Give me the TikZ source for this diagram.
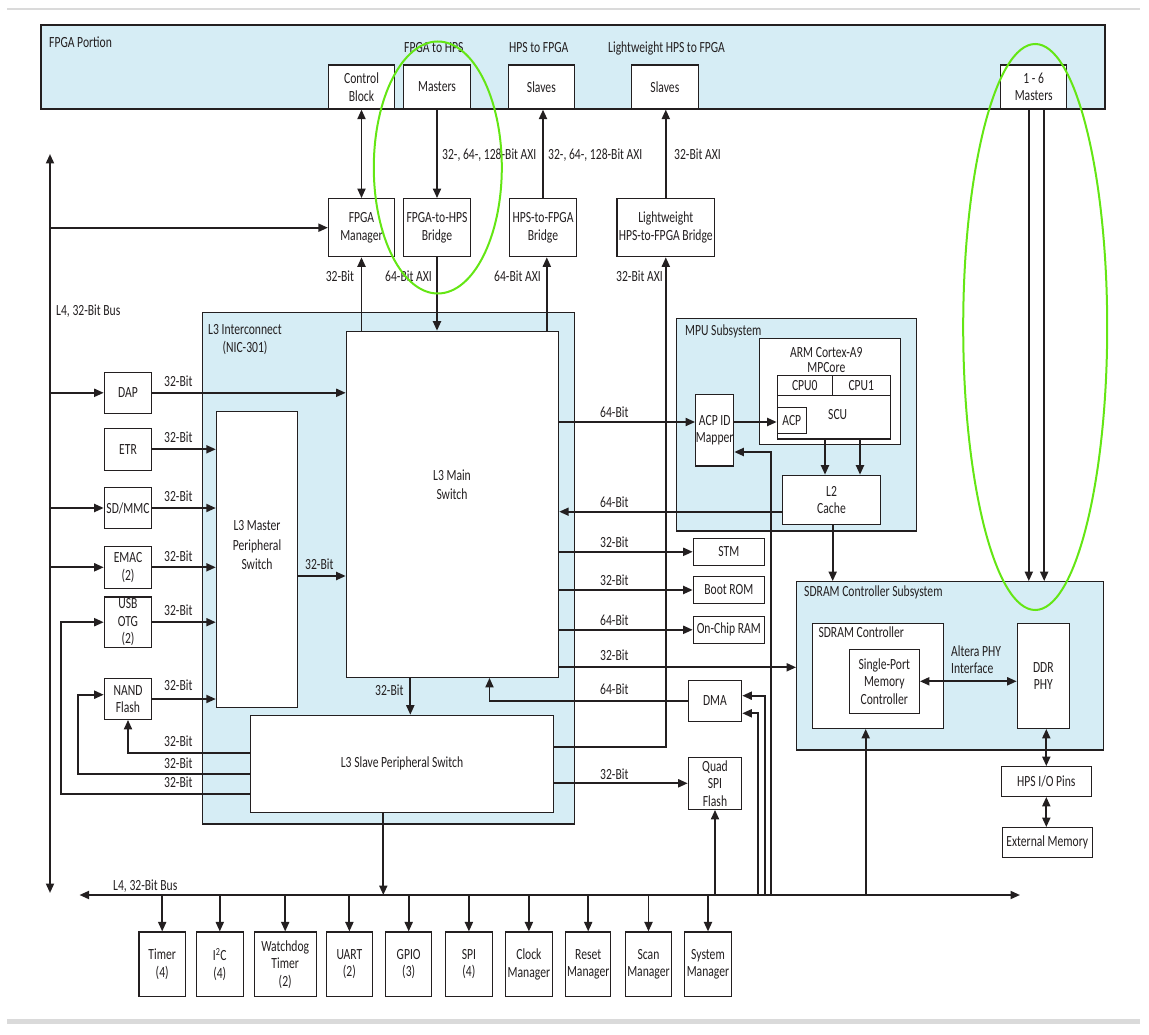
\documentclass[tikz,border=0pt]{standalone}
\usepackage{fontspec}
\setmainfont{Carlito}[FakeStretch=0.75]
\usetikzlibrary{arrows.meta}
\definecolor{ink}{RGB}{35,31,32}
\definecolor{lblue}{RGB}{214,237,245}
\definecolor{hlgreen}{RGB}{100,230,20}
\definecolor{rulec}{RGB}{218,218,218}
\begin{document}
\begin{tikzpicture}[x=1pt,y=-1pt,
  every node/.style={font=\fontsize{15.5}{17.5}\selectfont, text=ink},
  box/.style={draw=ink, line width=1.2pt, fill=white, inner sep=0pt, align=center},
  bx/.style 2 args={box, minimum width=#1pt, minimum height=#2pt},
  region/.style 2 args={draw=ink, line width=1.2pt, fill=lblue, inner sep=0pt, minimum width=#1pt, minimum height=#2pt},
  arr/.style={draw=ink, line width=1.9pt, -{Triangle[length=9.5pt,width=8pt]}},
  dbl/.style={draw=ink, line width=1.9pt, {Triangle[length=9.5pt,width=8pt]}-{Triangle[length=9.5pt,width=8pt]}},
  lbl/.style={inner sep=0pt, anchor=base west},
  txt/.style={inner sep=0pt, align=center},
  hl/.style={draw=hlgreen, line width=2pt}]
\useasboundingbox (0,0) rectangle (1149,1035);
% page rules
\draw[rulec, line width=2pt] (7,9) -- (1140,9);
\draw[rulec, line width=5pt] (7,1021) -- (1140,1021);
% regions
\node[region={1064}{84}] (fpgap) at (573,67) {};
\node[region={372.1}{511.7}] (l3ic) at (388.45,568.15) {};
\node[region={240}{212.7}] (mpu) at (796.7,424.65) {};
\node[region={306.6}{168.3}] (sdss) at (950,665.85) {};
\node[lbl] (fpgat) at (49,47.7) {FPGA Portion};
\node[lbl] (hd1) at (404,53) {FPGA to HPS};
\node[lbl] (hd2) at (509,53) {HPS to FPGA};
\node[lbl] (hd3) at (608,53) {Lightweight HPS to FPGA};
\node[txt] (l3t) at (245,339.5) {L3 Interconnect\\(NIC-301)};
\node[lbl] (mput) at (685,335) {MPU Subsystem};
\node[lbl] (sdsst) at (804,596.7) {SDRAM Controller Subsystem};
% FPGA portion boxes
\node[bx={66}{44}] (cb) at (361.5,87) {Control\\Block};
\node[bx={67}{44}] (mast) at (437,87) {Masters};
\node[bx={66}{44}] (sl1) at (541.4,87) {Slaves};
\node[bx={67}{44}] (sl2) at (664.9,87) {Slaves};
\node[bx={66}{44}] (m16) at (1033.7,87) {1 - 6\\Masters};
% bridges
\node[bx={66}{58}] (fm) at (361.5,227.7) {FPGA\\Manager};
\node[bx={67.5}{58}] (f2h) at (437,227.7) {FPGA-to-HPS\\Bridge};
\node[bx={67}{58}] (h2f) at (543,227.7) {HPS-to-FPGA\\Bridge};
\node[bx={97.5}{58}] (lw) at (665.8,227.7) {Lightweight\\HPS-to-FPGA Bridge};
% L3 interconnect
\node[bx={212.3}{346}] (ms) at (452.45,504.3) {};
\node[txt, font=\fontsize{15.5}{19.3}\selectfont] (mstxt) at (452,485) {L3 Main\\Switch};
\node[bx={81.4}{296}] (msw) at (257.1,559.3) {};
\node[txt, font=\fontsize{15.5}{19.3}\selectfont] (mswtxt) at (257,545.3) {L3 Master\\Peripheral\\Switch};
\node[bx={303.5}{97}] (ssw) at (402,763.8) {L3 Slave Peripheral Switch};
% left peripherals
\node[bx={47.4}{41}] (dap) at (128,392.8) {DAP};
\node[bx={47.4}{42}] (etr) at (128,449.3) {ETR};
\node[bx={47.4}{41.4}] (sdmmc) at (128,508) {SD/MMC};
\node[bx={47.4}{42}] (emac) at (128,567.3) {EMAC\\(2)};
\node[bx={47.4}{50.3}] (usb) at (128,622.2) {USB\\OTG\\(2)};
\node[bx={47.4}{40.6}] (nand) at (128,699) {NAND\\Flash};
% MPU
\node[bx={141}{106}] (arm) at (829.8,391.3) {};
\node[txt, font=\fontsize{15.5}{15.6}\selectfont] (armtxt) at (826.3,360) {ARM Cortex-A9\\MPCore};
\node[bx={55}{20}] (cpu0) at (804.8,385.7) {CPU0};
\node[bx={58}{20}] (cpu1) at (861.3,385.7) {CPU1};
\node[bx={113}{43.3}] (scu) at (833.8,417.35) {};
\node[txt] (scutxt) at (837.7,415) {SCU};
\node[bx={29}{26}] (acp) at (791.8,420.3) {ACP};
\node[bx={38}{71.7}] (acpm) at (714.7,430.2) {ACP ID\\Mapper};
\node[bx={98.4}{49.4}] (l2) at (831.5,500) {L2\\Cache};
% slaves on right
\node[bx={71}{27}] (stm) at (728.8,551.8) {STM};
\node[bx={71}{26.6}] (boot) at (728.8,590) {Boot ROM};
\node[bx={71}{27}] (ocram) at (728.8,629.8) {On-Chip RAM};
\node[bx={53.4}{41}] (dma) at (715,700.8) {DMA};
\node[bx={53.4}{52}] (qspi) at (715,783.3) {Quad\\SPI\\Flash};
% SDRAM
\node[bx={131}{105}] (sdctl) at (877.8,675.8) {};
\node[lbl] (sdctltxt) at (818.3,637.3) {SDRAM Controller};
\node[bx={70}{64}] (spmc) at (884.3,681.3) {Single-Port\\Memory\\Controller};
\node[bx={52}{105}] (ddr) at (1043.3,675.8) {DDR\\PHY};
\node[bx={90}{29.6}] (hpsio) at (1046.3,781.5) {HPS I/O Pins};
\node[bx={90}{29.6}] (extmem) at (1047.3,842.5) {External Memory};
% bottom peripherals
\node[bx={46.5}{64.3}] (timer) at (162.2,964.2) {Timer\\(4)};
\node[bx={47.2}{64.3}] (i2c) at (219.8,964.2) {I\textsuperscript{2}C\\(4)};
\node[bx={61.8}{64.3}] (wdt) at (285.2,964.2) {Watchdog\\Timer\\(2)};
\node[bx={45.9}{64.3}] (uart) at (349.4,964.2) {UART\\(2)};
\node[bx={45.9}{64.3}] (gpio) at (408.7,964.2) {GPIO\\(3)};
\node[bx={46.6}{64.3}] (spi) at (468.9,964.2) {SPI\\(4)};
\node[bx={46.5}{64.3}] (clk) at (528.9,964.2) {Clock\\Manager};
\node[bx={45.3}{64.3}] (rst) at (588.2,964.2) {Reset\\Manager};
\node[bx={45.9}{64.3}] (scan) at (648.5,964.2) {Scan\\Manager};
\node[bx={46.5}{64.3}] (sysm) at (708,964.2) {System\\Manager};
% buses
\coordinate (vbT) at (50,154);
\coordinate (vbB) at (50,893);
\coordinate (hbL) at (79.5,895);
\coordinate (hbR) at (1020,895);
\draw[dbl] (vbT) -- (vbB);
\draw[dbl] (hbL) -- (hbR);
% connectors: L4 vertical bus
\draw[arr] (vbT |- fm.west) -- (fm.west);
\draw[arr] (vbT |- dap.west) -- (dap.west);
\draw[arr] (vbT |- sdmmc.west) -- (sdmmc.west);
\draw[arr] (vbT |- emac.west) -- (emac.west);
% FPGA bridges
\draw[dbl] (cb.south) -- (fm.north);
\draw[arr] (mast.south) -- (f2h.north);
\draw[arr] (h2f.north) -- (h2f.north |- sl1.south);
\draw[arr] (lw.north) -- (lw.north |- sl2.south);
\draw[arr] (fm.south |- ms.north) -- (fm.south);
\draw[arr] (f2h.south) -- (f2h.south |- ms.north);
\draw[arr] (ms.north -| 546.8,0) -- (h2f.south -| 546.8,0);
% left masters
\draw[arr] (dap.east) -- (dap.east -| ms.west);
\draw[arr] (etr.east) -- (etr.east -| msw.west);
\draw[arr] (sdmmc.east) -- (sdmmc.east -| msw.west);
\draw[arr] (emac.east) -- (emac.east -| msw.west);
\draw[arr] (usb.east) -- (usb.east -| msw.west);
\draw[arr] (nand.east) -- (nand.east -| msw.west);
\draw[arr] (msw.east |- 0,576) -- (ms.west |- 0,576);
% slave switch loops
\draw[arr] (ssw.west |- 0,753.3) -| (nand.south);
\draw[arr] (ssw.west |- 0,773.7) -| (77.7,694.7) -- (nand.west |- 0,694.7);
\draw[arr] (ssw.west |- 0,793.7) -| (61.2,622.2) -- (usb.west);
\draw[arr] (ms.south -| 410.3,0) -- (ssw.north -| 410.3,0);
\draw[arr] (dma.west) -| (ms.south -| 489.5,0);
\draw[arr] (ssw.east |- 0,746.7) -| (lw.south);
\draw[arr] (ssw.south -| 383.3,0) -- (hbL -| 383.3,0);
\draw[arr] (ssw.east |- qspi.west) -- (qspi.west);
% MPU
\draw[arr] (ms.east |- 0,422) -- (acpm.west |- 0,422);
\draw[arr] (acpm.east |- 0,422) -- (acp.west |- 0,422);
\draw[arr] (scu.south -| 825,0) -- (l2.north -| 825,0);
\draw[arr] (scu.south -| 860,0) -- (l2.north -| 860,0);
\draw[arr] (l2.west |- 0,511.7) -- (ms.east |- 0,511.7);
\draw[arr] (l2.south -| 832.7,0) -- (sdss.north -| 832.7,0);
% main switch slaves
\draw[arr] (ms.east |- stm.west) -- (stm.west);
\draw[arr] (ms.east |- boot.west) -- (boot.west);
\draw[arr] (ms.east |- ocram.west) -- (ocram.west);
\draw[arr] (ms.east |- 0,667.3) -- (sdss.west |- 0,667.3);
% from bottom bus upwards
\draw[arr] (hbL -| 765,0) |- (dma.east |- 0,695.7);
\draw[arr] (hbL -| 758.3,0) |- (dma.east |- 0,713.3);
\draw[arr] (hbL -| 771.3,0) |- (acpm.east |- 0,452);
\draw[arr] (hbL -| qspi.south) -- (qspi.south);
\draw[arr] (hbL -| 865.7,0) -- (sdctl.south -| 865.7,0);
% SDRAM
\draw[dbl] (spmc.east) -- (spmc.east -| ddr.west);
\draw[dbl] (ddr.south -| hpsio.north) -- (hpsio.north);
\draw[dbl] (hpsio.south) -- (hpsio.south |- extmem.north);
\draw[arr] (m16.south -| 1028.8,0) -- (sdss.north -| 1028.8,0);
\draw[arr] (m16.south -| 1044.2,0) -- (sdss.north -| 1044.2,0);
% bottom bus to peripherals
\foreach \n in {timer,i2c,wdt,uart,gpio,spi,clk,rst,scan,sysm}
  \draw[arr] (hbL -| \n.north) -- (\n.north);
% labels
\node[lbl] (a1) at (442,160) {32-, 64-, 128-Bit AXI};
\node[lbl] (a2) at (548,160) {32-, 64-, 128-Bit AXI};
\node[lbl] (a3) at (674,160) {32-Bit AXI};
\node[lbl] (a4) at (325.6,281) {32-Bit};
\node[lbl] (a5) at (385,281) {64-Bit AXI};
\node[lbl] (a6) at (494,281) {64-Bit AXI};
\node[lbl] (a7) at (616,281) {32-Bit AXI};
\node[lbl] (l4a) at (56,315) {L4, 32-Bit Bus};
\node[lbl] (b1) at (164,386) {32-Bit};
\node[lbl] (b2) at (164,442.3) {32-Bit};
\node[lbl] (b3) at (164,501.7) {32-Bit};
\node[lbl] (b4) at (164,561.7) {32-Bit};
\node[lbl] (b5) at (164,615.7) {32-Bit};
\node[lbl] (b6) at (164,690) {32-Bit};
\node[lbl] (b7) at (164,746.7) {32-Bit};
\node[lbl] (b8) at (164,768.7) {32-Bit};
\node[lbl] (b9) at (164,787.7) {32-Bit};
\node[lbl] (c1) at (305,569.3) {32-Bit};
\node[lbl] (c2) at (375,695.3) {32-Bit};
\node[lbl] (d1) at (600,417.3) {64-Bit};
\node[lbl] (d2) at (600,507.3) {64-Bit};
\node[lbl] (d3) at (600,547.3) {32-Bit};
\node[lbl] (d4) at (600,585.3) {32-Bit};
\node[lbl] (d5) at (600,625.3) {64-Bit};
\node[lbl] (d6) at (600,660.7) {32-Bit};
\node[lbl] (d7) at (600,694) {64-Bit};
\node[lbl] (d8) at (600,779.3) {32-Bit};
\node[txt, anchor=west, align=left] (phyif) at (951,659.5) {Altera PHY\\Interface};
\node[lbl] (l4b) at (113,890) {L4, 32-Bit Bus};
% highlight ellipses
\draw[hl] (437.8,167.5) ellipse [x radius=64, y radius=126];
\draw[hl] (1035.2,327) ellipse [x radius=72, y radius=283];
\end{tikzpicture}
\end{document}
